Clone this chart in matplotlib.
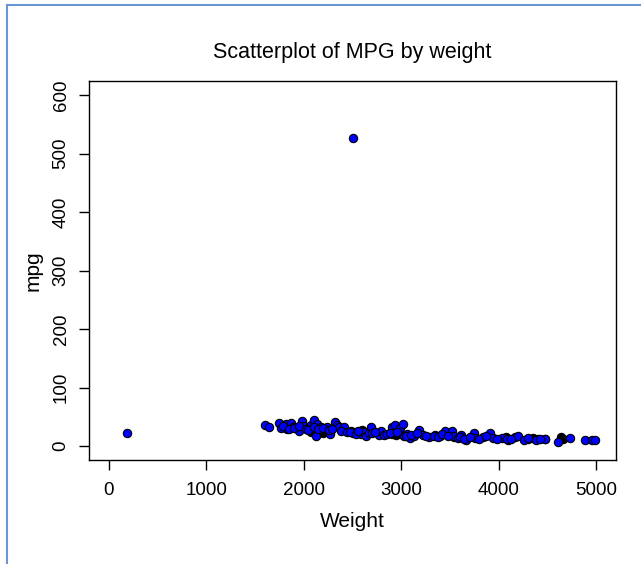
"""
Scatterplot of MPG by weight, R base graphics look
"""
import matplotlib.pyplot as plt
from matplotlib.lines import Line2D

plt.rcParams['font.family'] = ['Liberation Sans', 'DejaVu Sans']

# blue-filled points (weight, mpg)
weight_blue = [187, 2500, 1605, 1639, 1749, 1763, 1822, 1830, 1866, 1885,
               1947, 1984, 2006, 2050, 2079, 2109, 2123, 2131, 2179, 2234,
               2270, 2318, 2336, 2362, 2399, 2417, 2506, 2583, 2620, 2638,
               2667, 2693, 2766, 2792, 2821, 2902, 2939, 2986, 3012, 3023,
               3060, 3086, 3133, 3181, 3218, 3280, 3445, 3519, 3537, 3578,
               3614, 3659, 3740, 3758, 3832, 3905, 3942, 4034, 4163, 4200,
               4254, 4475, 4604, 4732, 4886, 4952, 4982,
               1790, 1850, 1900, 1955, 2020, 2045, 2100, 2150, 2200, 2255,
               2290, 2380, 2440, 2470, 2540, 2560, 2700, 2730, 2850, 2880,
               2960, 3050, 3100, 3160, 3250, 3330, 3380, 3420, 3480, 3600,
               3640, 3700, 3800, 3870, 3980, 4080, 4120, 4300, 4380, 4420]
mpg_blue = [22, 527, 37, 32, 40, 31, 38, 29, 39, 33,
            26, 43, 35, 33, 37, 44, 18, 38, 33, 33,
            20.5, 42, 36, 32, 27, 32, 22, 20.5, 25, 18,
            23, 32, 19.5, 26, 19.5, 32, 36, 31, 38, 18,
            20.5, 14, 18, 27, 19.5, 16, 26, 26, 18, 14,
            19.5, 10.5, 22, 14, 16, 22, 14, 14, 15, 18,
            10.5, 12, 8, 14, 10.5, 10.5, 10.5,
            35, 29, 31, 34, 30, 28, 32, 29, 31, 27,
            30, 26, 24, 25, 21, 26, 22, 24, 21, 23,
            24, 17, 19, 22, 17, 18, 15, 20, 17, 16,
            13, 15, 13, 17, 13, 12, 13, 14, 11, 12]

# black-filled points
weight_black = [2070, 2150, 2200, 2250, 2480, 2540, 2600, 2650, 2700, 2760,
                2900, 2950, 3000, 3340, 3400, 3450, 3540, 4070, 4090, 4300,
                4350, 4400, 4475, 4640, 4660]
mpg_black = [25, 24, 23, 26, 26, 24, 27, 25, 28, 22,
             20, 19, 21, 19, 18, 20, 15, 15, 11, 13,
             14, 13, 13, 15, 12]

fig = plt.figure(figsize=(6.41, 5.64), dpi=100)
ax = fig.add_axes([0.139, 0.184, 0.822, 0.672])

ax.scatter(weight_black, mpg_black, s=36, c='black', edgecolors='black',
           linewidths=0.8, zorder=2)
ax.scatter(weight_blue, mpg_blue, s=36, c='#0000FF', edgecolors='black',
           linewidths=0.8, zorder=3)

ax.set_xlim(-200, 5200)
ax.set_ylim(-24, 624)
ax.set_xticks([0, 1000, 2000, 3000, 4000, 5000])
ax.set_yticks([0, 100, 200, 300, 400, 500, 600])
ax.tick_params(direction='out', length=7, width=1, labelsize=13.5, color='black')
ax.tick_params(axis='x', pad=9)
ax.tick_params(axis='y', pad=7)
for lbl in ax.get_yticklabels():
    lbl.set_rotation(90)
    lbl.set_va('center')
for sp in ax.spines.values():
    sp.set_linewidth(1)

ax.set_title('Scatterplot of MPG by weight', fontsize=15.5, pad=17)
ax.set_xlabel('Weight', fontsize=15, labelpad=9)
ax.set_ylabel('mpg', fontsize=15, labelpad=7)

# blue frame on left and top edges
fig.add_artist(Line2D([7 / 641, 7 / 641], [0, 1 - 5 / 564],
                      transform=fig.transFigure, color='#6a96d6', lw=1.5))
fig.add_artist(Line2D([7 / 641, 1], [1 - 5 / 564, 1 - 5 / 564],
                      transform=fig.transFigure, color='#6a96d6', lw=1.5))

fig.savefig('out.png', dpi=100)
